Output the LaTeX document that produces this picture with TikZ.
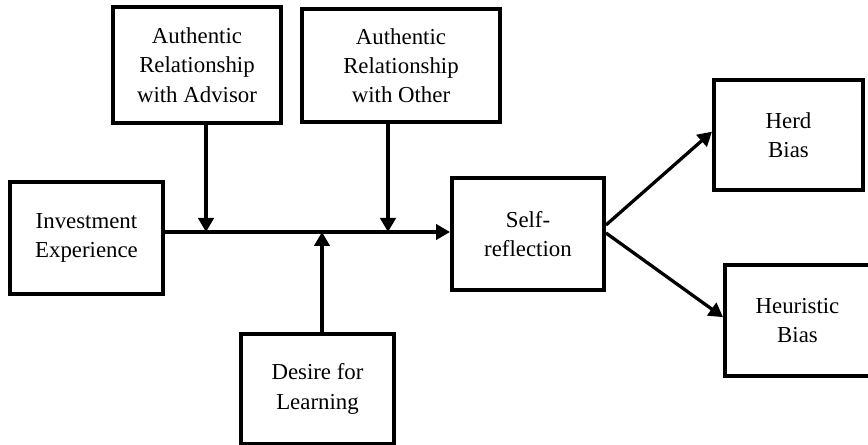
\documentclass[tikz,border=0pt]{standalone}
\usepackage{fontspec}
\setmainfont{Liberation Serif}
\usetikzlibrary{arrows.meta,positioning}

\tikzset{
  factor/.style={draw, line width=3.4pt, inner sep=0pt, align=center,
    font=\fontsize{19.5}{25}\selectfont},
  link/.style={line width=2.8pt, -{Triangle[length=4.2mm,width=4.6mm]}}
}

\begin{document}
\begin{tikzpicture}[x=0.3mm,y=-0.3mm]
  \useasboundingbox (0,0) rectangle (868,445);
  %the factor boxes
  \node[factor, minimum width=50.4mm, minimum height=34.8mm] (advisor) at (197,65) {Authentic\\Relationship\\with Advisor};
  \node[factor, minimum width=59.4mm, minimum height=33.9mm] (other) at (401,65.5) {Authentic\\Relationship\\with Other};
  \node[factor, minimum width=45.9mm, minimum height=33.6mm] (invest) at (86.5,238) {Investment\\Experience};
  \node[factor, minimum width=45.6mm, minimum height=33.6mm] (self) at (528,234) {Self-\\reflection};
  \node[factor, minimum width=45.9mm, minimum height=33mm] (desire) at (317.5,389) {Desire for\\Learning};
  \node[factor, minimum width=44.7mm, minimum height=33mm] (herd) at (788.5,135) {Herd\\Bias};
  \node[factor, minimum width=43.5mm, minimum height=33.3mm] (heur) at (797.5,320.5) {Heuristic\\Bias};
  %points where the moderators meet the main path
  \coordinate (j1) at (206,232);
  \coordinate (j2) at (388,232);
  \coordinate (j3) at (322,232);
  %main path
  \draw[link] (invest.east |- j1) -- (self.west |- j1);
  %moderators
  \draw[link] (advisor.south -| j1) -- (j1);
  \draw[link] (other.south -| j2) -- (j2);
  \draw[link] (desire.north -| j3) -- (j3);
  %outcomes
  \draw[link] ([yshift=2.7mm]self.east) -- ([yshift=1mm]herd.west);
  \draw[link] ([yshift=0.3mm]self.east) -- ([yshift=1mm]heur.west);
\end{tikzpicture}
\end{document}
